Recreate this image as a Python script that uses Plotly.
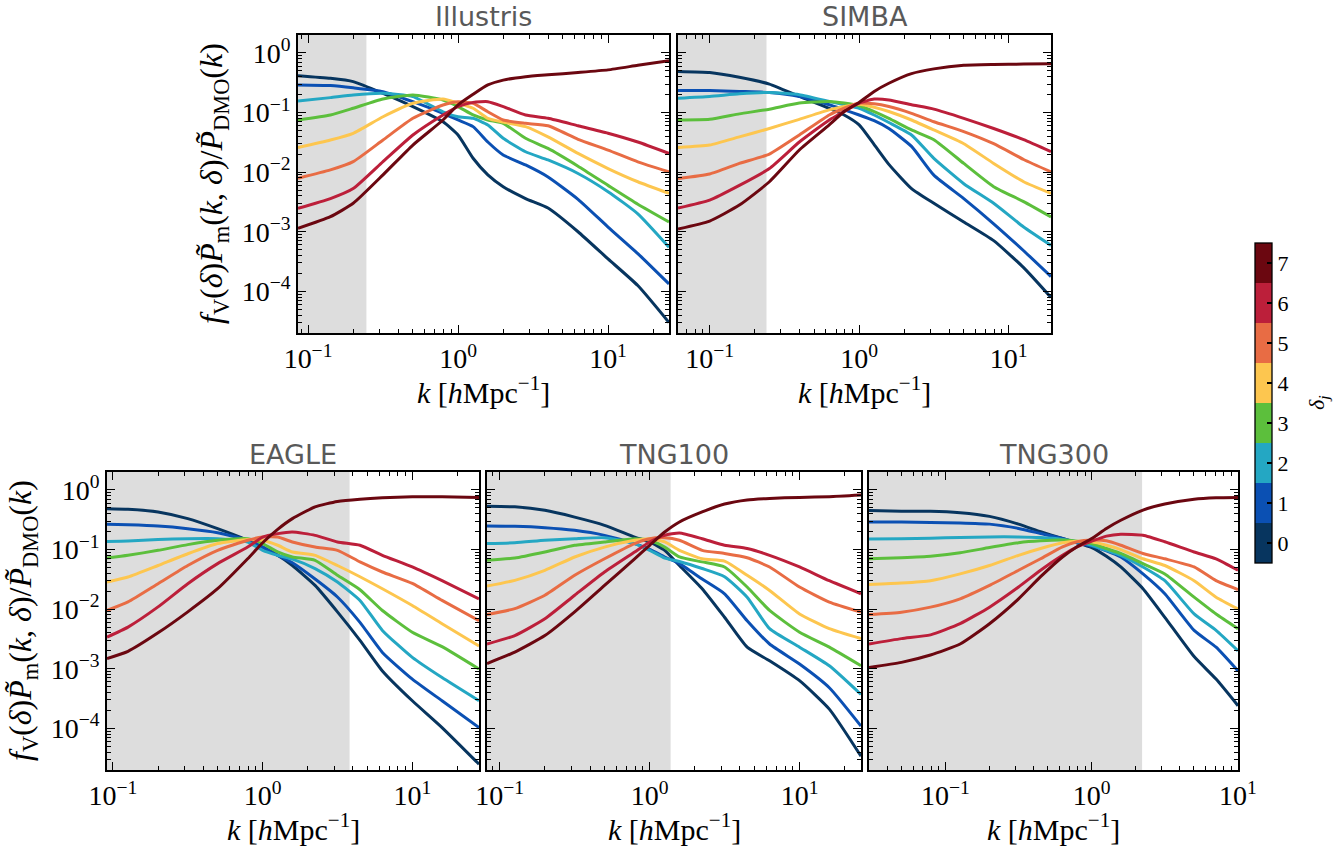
import numpy as np
import plotly.graph_objects as go

W, H = 1337, 847

# ---------------- data ----------------
delta_labels = [0, 1, 2, 3, 4, 5, 6, 7]
colors = ["#07355f", "#0b50b3", "#24a7c3", "#5cbf3c", "#fdc64f", "#e86c44", "#bc1f3a", "#6b0710"]

# Illustris
illustris_k = [0.0857, 0.141, 0.2, 0.316, 0.5, 0.794, 1.0, 1.26, 1.58, 2.0, 2.82, 3.98, 6.31, 10.0, 15.8, 25.5]
illustris_d0 = [0.416, 0.375, 0.33, 0.21, 0.126, 0.070, 0.042, 0.0171, 0.0090, 0.0057, 0.0036, 0.0025, 0.0010, 0.00035, 0.000125, 3.0e-5]
illustris_d1 = [0.29, 0.283, 0.26, 0.224, 0.152, 0.097, 0.075, 0.058, 0.032, 0.0194, 0.0132, 0.0083, 0.0035, 0.0012, 0.00043, 0.000133]
illustris_d2 = [0.156, 0.178, 0.197, 0.21, 0.185, 0.103, 0.085, 0.080, 0.062, 0.037, 0.022, 0.0160, 0.0095, 0.0047, 0.0020, 0.00055]
illustris_d3 = [0.075, 0.091, 0.118, 0.169, 0.197, 0.162, 0.126, 0.091, 0.075, 0.066, 0.037, 0.025, 0.0126, 0.0060, 0.0029, 0.00146]
illustris_d4 = [0.0258, 0.0346, 0.0448, 0.085, 0.143, 0.169, 0.143, 0.118, 0.080, 0.069, 0.058, 0.039, 0.0206, 0.0115, 0.0069, 0.0044]
illustris_d5 = [0.0079, 0.0109, 0.0150, 0.0346, 0.080, 0.134, 0.152, 0.143, 0.103, 0.075, 0.066, 0.060, 0.0356, 0.0235, 0.0149, 0.0101]
illustris_d6 = [0.00247, 0.0036, 0.0053, 0.0150, 0.042, 0.091, 0.126, 0.148, 0.152, 0.126, 0.091, 0.080, 0.060, 0.045, 0.032, 0.0206]
illustris_d7 = [0.00114, 0.00179, 0.0030, 0.0090, 0.0285, 0.075, 0.134, 0.202, 0.29, 0.35, 0.40, 0.43, 0.47, 0.52, 0.62, 0.74]

# SIMBA
simba_k = [0.0614, 0.1, 0.158, 0.251, 0.398, 0.631, 0.794, 1.0, 1.26, 1.58, 2.24, 3.16, 5.01, 7.94, 12.6, 19.2]
simba_d0 = [0.49, 0.47, 0.39, 0.30, 0.186, 0.118, 0.091, 0.062, 0.029, 0.0135, 0.0053, 0.0030, 0.00146, 0.00071, 0.00025, 7.9e-5]
simba_d1 = [0.235, 0.235, 0.226, 0.217, 0.186, 0.135, 0.111, 0.091, 0.073, 0.054, 0.027, 0.0089, 0.0036, 0.00136, 0.00048, 0.000177]
simba_d2 = [0.174, 0.186, 0.206, 0.217, 0.199, 0.153, 0.135, 0.118, 0.091, 0.068, 0.042, 0.0170, 0.0064, 0.0030, 0.0012, 0.00059]
simba_d3 = [0.075, 0.077, 0.095, 0.114, 0.144, 0.153, 0.144, 0.130, 0.104, 0.080, 0.051, 0.035, 0.0140, 0.0057, 0.0032, 0.00177]
simba_d4 = [0.026, 0.0285, 0.039, 0.054, 0.077, 0.111, 0.126, 0.138, 0.123, 0.104, 0.075, 0.051, 0.030, 0.0140, 0.0069, 0.0044]
simba_d5 = [0.0078, 0.0093, 0.0140, 0.0201, 0.042, 0.091, 0.118, 0.144, 0.140, 0.126, 0.097, 0.070, 0.048, 0.030, 0.0163, 0.0101]
simba_d6 = [0.0025, 0.0034, 0.0060, 0.0115, 0.032, 0.075, 0.104, 0.144, 0.168, 0.163, 0.135, 0.114, 0.080, 0.054, 0.035, 0.022]
simba_d7 = [0.00111, 0.00151, 0.0028, 0.0069, 0.0235, 0.062, 0.104, 0.148, 0.226, 0.31, 0.45, 0.54, 0.62, 0.64, 0.65, 0.66]

# EAGLE
eagle_k = [0.0912, 0.126, 0.2, 0.316, 0.5, 0.794, 1.0, 1.26, 1.58, 2.24, 3.16, 4.47, 6.31, 10.0, 15.8, 27.9]
eagle_d0 = [0.485, 0.475, 0.427, 0.33, 0.224, 0.143, 0.110, 0.080, 0.054, 0.025, 0.0090, 0.0030, 0.00092, 0.00029, 0.000103, 2.5e-5]
eagle_d1 = [0.265, 0.26, 0.248, 0.224, 0.192, 0.143, 0.110, 0.080, 0.060, 0.032, 0.016, 0.0060, 0.00188, 0.00067, 0.00029, 0.000103]
eagle_d2 = [0.137, 0.139, 0.147, 0.152, 0.152, 0.134, 0.097, 0.080, 0.069, 0.048, 0.0285, 0.0140, 0.0044, 0.00155, 0.00071, 0.00029]
eagle_d3 = [0.072, 0.080, 0.097, 0.121, 0.143, 0.152, 0.126, 0.091, 0.075, 0.066, 0.037, 0.0212, 0.0095, 0.0041, 0.00235, 0.00099]
eagle_d4 = [0.0285, 0.0346, 0.054, 0.085, 0.126, 0.147, 0.143, 0.118, 0.091, 0.080, 0.054, 0.035, 0.022, 0.0115, 0.0057, 0.0024]
eagle_d5 = [0.0095, 0.0132, 0.0267, 0.054, 0.097, 0.143, 0.162, 0.162, 0.134, 0.110, 0.097, 0.062, 0.042, 0.027, 0.0140, 0.0064]
eagle_d6 = [0.0034, 0.0050, 0.0109, 0.0267, 0.058, 0.110, 0.162, 0.185, 0.197, 0.173, 0.134, 0.118, 0.080, 0.051, 0.030, 0.0149]
eagle_d7 = [0.00148, 0.00196, 0.0040, 0.0090, 0.022, 0.070, 0.130, 0.218, 0.33, 0.52, 0.64, 0.70, 0.74, 0.77, 0.77, 0.75]

# TNG100
tng100_k = [0.0822, 0.126, 0.2, 0.316, 0.5, 0.794, 1.0, 1.26, 1.58, 2.24, 3.16, 4.47, 6.31, 10.0, 15.8, 25.7]
tng100_d0 = [0.53, 0.52, 0.455, 0.35, 0.255, 0.162, 0.134, 0.097, 0.054, 0.022, 0.0073, 0.0023, 0.00136, 0.00063, 0.00021, 3.4e-5]
tng100_d1 = [0.248, 0.245, 0.233, 0.21, 0.173, 0.126, 0.101, 0.075, 0.058, 0.032, 0.0181, 0.0064, 0.0026, 0.0012, 0.00048, 0.000109]
tng100_d2 = [0.126, 0.130, 0.143, 0.152, 0.158, 0.126, 0.097, 0.072, 0.063, 0.048, 0.035, 0.0159, 0.0047, 0.0023, 0.00112, 0.00037]
tng100_d3 = [0.066, 0.072, 0.091, 0.118, 0.134, 0.152, 0.143, 0.110, 0.075, 0.062, 0.051, 0.0235, 0.0095, 0.0041, 0.0023, 0.00112]
tng100_d4 = [0.0244, 0.0304, 0.0448, 0.075, 0.110, 0.143, 0.152, 0.134, 0.097, 0.070, 0.064, 0.037, 0.0206, 0.0083, 0.0047, 0.0032]
tng100_d5 = [0.0081, 0.0102, 0.0171, 0.037, 0.070, 0.126, 0.152, 0.158, 0.143, 0.097, 0.086, 0.073, 0.051, 0.0235, 0.0131, 0.0089]
tng100_d6 = [0.0026, 0.0036, 0.0069, 0.0171, 0.042, 0.091, 0.134, 0.173, 0.19, 0.152, 0.118, 0.104, 0.080, 0.051, 0.030, 0.0181]
tng100_d7 = [0.00122, 0.0019, 0.0036, 0.0090, 0.025, 0.070, 0.118, 0.197, 0.29, 0.427, 0.58, 0.68, 0.72, 0.75, 0.77, 0.82]

# TNG300
tng300_k = [0.030, 0.05, 0.079, 0.126, 0.2, 0.316, 0.447, 0.631, 0.794, 1.0, 1.26, 1.58, 2.24, 3.16, 5.01, 7.08, 10.0]
tng300_d0 = [0.45, 0.44, 0.44, 0.415, 0.36, 0.267, 0.199, 0.153, 0.130, 0.108, 0.077, 0.051, 0.022, 0.0073, 0.0016, 0.00067, 0.00024]
tng300_d1 = [0.29, 0.29, 0.285, 0.28, 0.267, 0.226, 0.186, 0.153, 0.130, 0.114, 0.095, 0.075, 0.039, 0.0181, 0.0044, 0.0023, 0.00092]
tng300_d2 = [0.15, 0.151, 0.155, 0.159, 0.163, 0.163, 0.159, 0.148, 0.135, 0.118, 0.097, 0.080, 0.051, 0.030, 0.0083, 0.0044, 0.0020]
tng300_d3 = [0.070, 0.073, 0.077, 0.088, 0.108, 0.130, 0.140, 0.144, 0.138, 0.126, 0.104, 0.086, 0.058, 0.039, 0.0159, 0.0083, 0.0047]
tng300_d4 = [0.026, 0.0274, 0.030, 0.039, 0.054, 0.080, 0.104, 0.130, 0.138, 0.135, 0.118, 0.100, 0.070, 0.054, 0.030, 0.0159, 0.0101]
tng300_d5 = [0.0081, 0.0089, 0.0108, 0.0149, 0.025, 0.045, 0.070, 0.111, 0.135, 0.144, 0.140, 0.118, 0.086, 0.070, 0.051, 0.030, 0.0212]
tng300_d6 = [0.0026, 0.0032, 0.0037, 0.0057, 0.0108, 0.0235, 0.045, 0.080, 0.111, 0.138, 0.168, 0.181, 0.174, 0.135, 0.091, 0.070, 0.045]
tng300_d7 = [0.00105, 0.00128, 0.0017, 0.0026, 0.0057, 0.0149, 0.035, 0.075, 0.111, 0.153, 0.226, 0.31, 0.46, 0.58, 0.70, 0.74, 0.75]

panel_names = ["Illustris", "SIMBA", "EAGLE", "TNG100", "TNG300"]
panel_k = [illustris_k, simba_k, eagle_k, tng100_k, tng300_k]
panel_curves = [
    [illustris_d0, illustris_d1, illustris_d2, illustris_d3, illustris_d4, illustris_d5, illustris_d6, illustris_d7],
    [simba_d0, simba_d1, simba_d2, simba_d3, simba_d4, simba_d5, simba_d6, simba_d7],
    [eagle_d0, eagle_d1, eagle_d2, eagle_d3, eagle_d4, eagle_d5, eagle_d6, eagle_d7],
    [tng100_d0, tng100_d1, tng100_d2, tng100_d3, tng100_d4, tng100_d5, tng100_d6, tng100_d7],
    [tng300_d0, tng300_d1, tng300_d2, tng300_d3, tng300_d4, tng300_d5, tng300_d6, tng300_d7],
]
shade_kmax = [0.245, 0.24, 3.81, 1.38, 2.21]
y_limits = [2e-5, 2.0]

x_tickvals = [0.1, 1, 10]
x_ticktext = ["10<sup>−1</sup>", "10<sup>0</sup>", "10<sup>1</sup>"]
y_tickvals = [1, 0.1, 0.01, 0.001, 0.0001]
y_ticktext = ["10<sup>0</sup>", "10<sup>−1</sup>", "10<sup>−2</sup>", "10<sup>−3</sup>", "10<sup>−4</sup>"]
x_minor = [m * 10.0 ** e for e in range(-2, 2) for m in range(2, 10)]
y_minor = [m * 10.0 ** e for e in range(-5, 1) for m in range(2, 10)]

# ---------------- layout (pixel boxes) ----------------
boxes = [  # x0, x1, y0(top), y1(bottom) in px
    (298, 669, 35, 333),
    (678, 1051, 35, 333),
    (107, 479, 472, 770),
    (487, 861, 472, 770),
    (869, 1238, 472, 770),
]
show_ylabels = [True, False, True, False, False]

SERIF = "Liberation Serif"
fig = go.Figure()
layout_axes = {}
annotations = []

for i, (name, ks, curves, kcut, box, sy) in enumerate(
        zip(panel_names, panel_k, panel_curves, shade_kmax, boxes, show_ylabels)):
    n = i + 1
    xa = "x" if n == 1 else f"x{n}"
    ya = "y" if n == 1 else f"y{n}"
    kmin, kmax = ks[0], ks[-1]
    # shaded region
    fig.add_trace(go.Scatter(
        x=[kmin, kcut, kcut, kmin, kmin], y=[y_limits[0], y_limits[0], y_limits[1], y_limits[1], y_limits[0]],
        fill="toself", fillcolor="#dddddd", line=dict(width=0), mode="lines",
        hoverinfo="skip", showlegend=False, xaxis=xa, yaxis=ya))
    for j, vals in enumerate(curves):
        fig.add_trace(go.Scatter(
            x=ks, y=vals, mode="lines", line=dict(color=colors[j], width=3, shape="spline", smoothing=0.5),
            name=f"δ={delta_labels[j]}", showlegend=False, xaxis=xa, yaxis=ya))
    x0, x1, yt, yb = box
    common = dict(type="log", showgrid=False, zeroline=False, showline=True, linecolor="black",
                  linewidth=1.5, mirror="allticks", ticks="inside", ticklen=8, tickwidth=1.3,
                  tickcolor="black", automargin=False,
                  tickfont=dict(family=SERIF, size=28, color="black"))
    layout_axes["xaxis" if n == 1 else f"xaxis{n}"] = dict(
        common, domain=[x0 / W, x1 / W], anchor=ya,
        range=[np.log10(kmin), np.log10(kmax)], tickvals=x_tickvals, ticktext=x_ticktext,
        minor=dict(tickmode="array", tickvals=x_minor, ticks="inside", ticklen=4, tickwidth=1,
                   tickcolor="black", showgrid=False))
    layout_axes["yaxis" if n == 1 else f"yaxis{n}"] = dict(
        common, domain=[1 - yb / H, 1 - yt / H], anchor=xa,
        range=[np.log10(y_limits[0]), np.log10(y_limits[1])], tickvals=y_tickvals,
        ticktext=y_ticktext, showticklabels=sy,
        minor=dict(tickmode="array", tickvals=y_minor, ticks="inside", ticklen=4, tickwidth=1,
                   tickcolor="black", showgrid=False))
    cx = (x0 + x1) / 2
    # panel title
    annotations.append(dict(text=name, x=cx / W, y=1 - (yt - 18) / H, xref="paper", yref="paper",
                            xanchor="center", yanchor="middle", showarrow=False,
                            font=dict(family="DejaVu Sans", size=27, color="#595959")))
    # x-axis title
    annotations.append(dict(text="<i>k</i> [<i>h</i>Mpc<sup>−1</sup>]", x=cx / W, y=1 - (yb + 57) / H,
                            xref="paper", yref="paper", xanchor="center", yanchor="middle",
                            showarrow=False, font=dict(family=SERIF, size=30, color="black")))
    if sy:
        annotations.append(dict(
            text="<i>f</i><sub>V</sub>(<i>δ</i>)<i>P̃</i><sub>m</sub>(<i>k</i>, <i>δ</i>)/<i>P̃</i><sub>DMO</sub>(<i>k</i>)",
            x=(x0 - 85) / W, y=1 - ((yt + yb) / 2) / H, xref="paper", yref="paper",
            xanchor="center", yanchor="middle", textangle=-90, showarrow=False,
            font=dict(family=SERIF, size=32, color="black")))

# colorbar (discrete, one block per delta bin)
cscale = []
for j, c in enumerate(colors):
    cscale.append([j / 8, c])
    cscale.append([(j + 1) / 8, c])
cb_common = dict(x=1255 / W, xanchor="left", xpad=0, ypad=0, y=1 - 403 / H, yanchor="middle",
                 len=320 / H, lenmode="fraction", thickness=17,
                 tickvals=delta_labels, ticks="inside", ticklen=5, tickwidth=1.5, tickcolor="black")
fig.add_trace(go.Scatter(
    x=[None], y=[None], mode="markers", showlegend=False, hoverinfo="skip",
    marker=dict(color=[0], colorscale=cscale, cmin=-0.5, cmax=7.5, showscale=True,
                colorbar=dict(cb_common, outlinewidth=1.3, outlinecolor="black",
                              ticktext=[str(d) for d in delta_labels],
                              tickfont=dict(family=SERIF, size=22, color="black"))),
))
# transparent overlay bar to draw the left-side tick dashes
fig.add_trace(go.Scatter(
    x=[None], y=[None], mode="markers", showlegend=False, hoverinfo="skip",
    marker=dict(color=[0], colorscale=[[0, "rgba(0,0,0,0)"], [1, "rgba(0,0,0,0)"]],
                cmin=-0.5, cmax=7.5, showscale=True,
                colorbar=dict(cb_common, outlinewidth=0, showticklabels=False,
                              ticklabelposition="outside left", bgcolor="rgba(0,0,0,0)")),
))
annotations.append(dict(text="<i>δ</i><sub><i>j</i></sub>", x=1318 / W, y=1 - 403 / H,
                        xref="paper", yref="paper", xanchor="center", yanchor="middle",
                        textangle=-90, showarrow=False,
                        font=dict(family=SERIF, size=22, color="black")))

fig.update_layout(template="none", width=W, height=H,
                  margin=dict(l=0, r=0, t=0, b=0, pad=0, autoexpand=False),
                  paper_bgcolor="white", plot_bgcolor="white",
                  annotations=annotations, showlegend=False, **layout_axes)

fig.write_html("out.html")
